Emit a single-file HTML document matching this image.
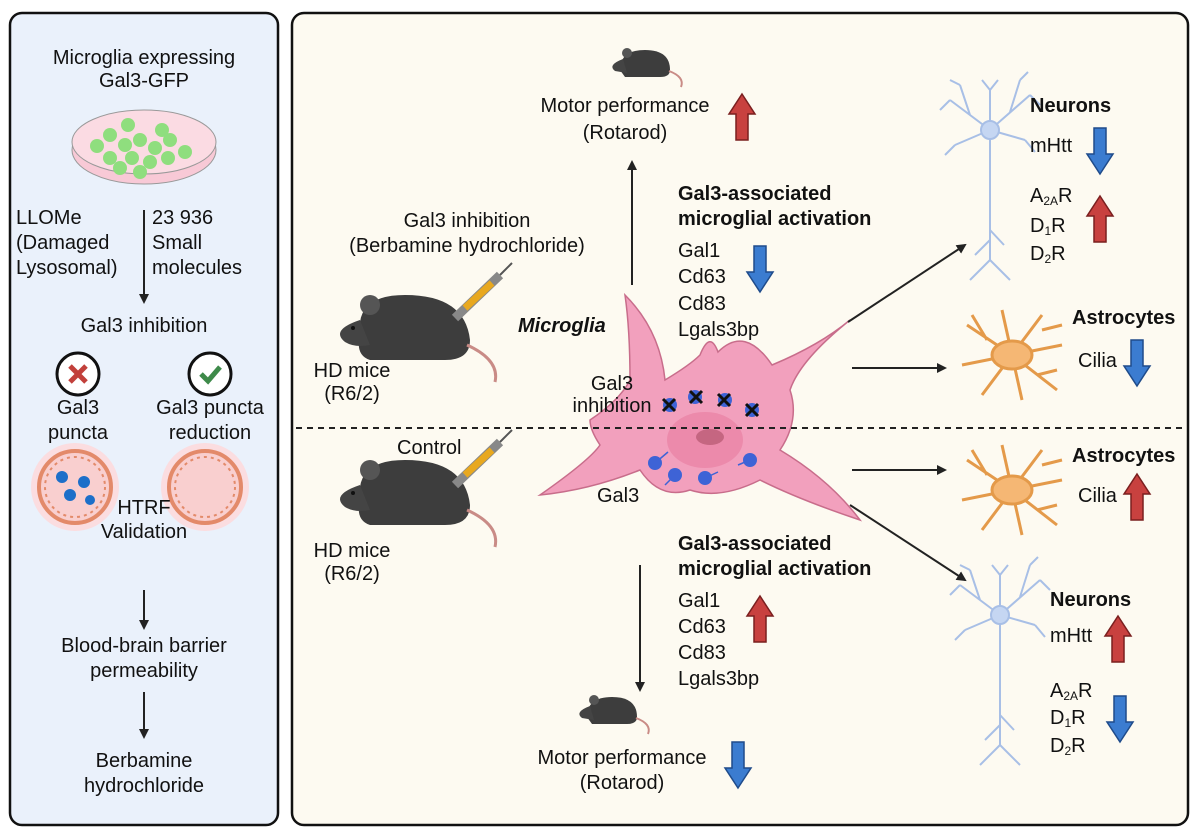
<!DOCTYPE html>
<html><head><meta charset="utf-8"><style>
body{margin:0;background:#fff}
svg{display:block;font-family:"Liberation Sans",sans-serif}
text{fill:#111;font-size:20px}
.b{font-weight:bold}
.m{text-anchor:middle}
</style></head><body>
<svg width="1200" height="840" viewBox="0 0 1200 840">
<defs>
<marker id="ah" markerWidth="10" markerHeight="10" refX="8" refY="5" orient="auto" markerUnits="userSpaceOnUse"><path d="M0,0 L10,5 L0,10 z" fill="#222"/></marker>
<g id="up"><path d="M0,-24 L13,-4 L6,-4 L6,22 L-6,22 L-6,-4 L-13,-4 z" fill="#c8413f" stroke="#7a1f1f" stroke-width="1.5"/></g>
<g id="dn"><path d="M0,24 L13,4 L6,4 L6,-22 L-6,-22 L-6,4 L-13,4 z" fill="#3b7cd0" stroke="#1f4b8a" stroke-width="1.5"/></g>
<g id="mouse"><path d="M-55,5 Q-60,-35 -10,-35 Q50,-35 55,10 Q55,30 30,30 L-45,30 Q-60,25 -55,5 z" fill="#3d3d3d"/><path d="M-55,-10 Q-85,0 -70,12 Q-60,18 -45,15 z" fill="#444"/><circle cx="-45" cy="-25" r="10" fill="#555"/><circle cx="-62" cy="-2" r="2" fill="#111"/><path d="M52,15 Q85,30 80,52" stroke="#c98b86" stroke-width="3" fill="none"/></g>
<g id="smouse"><path d="M-25,5 Q-25,-15 0,-15 Q25,-15 25,5 Q25,12 15,12 L-20,12 z" fill="#3d3d3d"/><path d="M-22,-6 Q-38,0 -30,6 L-18,8 z" fill="#444"/><circle cx="-18" cy="-12" r="5" fill="#555"/><path d="M24,6 Q40,12 36,22" stroke="#c98b86" stroke-width="2" fill="none"/></g>
<g id="astro" stroke="#e49a4a" stroke-width="3" fill="none"><path d="M0,0 L-45,-30 M0,0 L-50,10 M0,0 L-30,40 M0,0 L10,45 M0,0 L45,35 M0,0 L50,-10 M0,0 L30,-40 M0,0 L-10,-45 M-25,-15 L-40,-40 M25,20 L45,15 M30,-25 L50,-30"/><ellipse cx="0" cy="0" rx="20" ry="14" fill="#f5b774" stroke="#e49a4a"/></g>
<g id="neuron" stroke="#a8bfe6" stroke-width="2" fill="none"><path d="M0,0 L0,130 M0,130 L-20,150 M0,130 L20,150 M0,110 L-15,125 M0,100 L14,115 M0,0 L-40,-30 M0,0 L40,-35 M0,0 L-35,15 M0,0 L35,10 M-20,-15 L-30,-45 M20,-18 L30,-50 M0,0 L0,-40 M-40,-30 L-50,-20 M40,-35 L50,-25 M-35,15 L-45,25 M35,10 L45,22 M0,-40 L-8,-50 M0,-40 L8,-50 M-30,-45 L-40,-50 M30,-50 L38,-58"/><circle cx="0" cy="0" r="9" fill="#c5d6f2"/></g>
</defs>
<rect x="10" y="13" width="268" height="812" rx="12" fill="#eaf1fb" stroke="#111" stroke-width="2.5"/>
<rect x="292" y="13" width="896" height="812" rx="12" fill="#fdfaf1" stroke="#111" stroke-width="2.5"/>

<text class="m" x="144" y="64">Microglia expressing</text>
<text class="m" x="144" y="87">Gal3-GFP</text>
<ellipse cx="144" cy="150" rx="72" ry="34" fill="#f8c9d6" stroke="#999"/>
<ellipse cx="144" cy="142" rx="72" ry="32" fill="#fbdbe3" stroke="#999"/>
<g fill="#8fde7e"><circle cx="110" cy="135" r="7"/><circle cx="125" cy="145" r="7"/><circle cx="140" cy="140" r="7"/><circle cx="155" cy="148" r="7"/><circle cx="170" cy="140" r="7"/><circle cx="132" cy="158" r="7"/><circle cx="150" cy="162" r="7"/><circle cx="168" cy="158" r="7"/><circle cx="185" cy="152" r="7"/><circle cx="97" cy="146" r="7"/><circle cx="120" cy="168" r="7"/><circle cx="162" cy="130" r="7"/><circle cx="140" cy="172" r="7"/><circle cx="128" cy="125" r="7"/><circle cx="110" cy="158" r="7"/></g>
<text x="16" y="224">LLOMe</text><text x="16" y="249">(Damaged</text><text x="16" y="274">Lysosomal)</text>
<text x="152" y="224">23 936</text><text x="152" y="249">Small</text><text x="152" y="274">molecules</text>
<line x1="144" y1="210" x2="144" y2="302" stroke="#222" stroke-width="2" marker-end="url(#ah)"/>
<text class="m" x="144" y="332">Gal3 inhibition</text>
<circle cx="78" cy="374" r="21" fill="#fff" stroke="#111" stroke-width="3"/>
<path d="M70,366 L86,382 M86,366 L70,382" stroke="#c2403b" stroke-width="5"/>
<circle cx="210" cy="374" r="21" fill="#fff" stroke="#111" stroke-width="3"/>
<path d="M201,374 L208,381 L220,367" stroke="#3e8a4a" stroke-width="5" fill="none"/>
<text class="m" x="78" y="414">Gal3</text><text class="m" x="78" y="439">puncta</text>
<text class="m" x="210" y="414">Gal3 puncta</text><text class="m" x="210" y="439">reduction</text>
<circle cx="75" cy="487" r="44" fill="#fbdde0"/><circle cx="75" cy="487" r="36" fill="#f9cfcf" stroke="#e38a6a" stroke-width="4"/><circle cx="75" cy="487" r="30" fill="none" stroke="#e38a6a" stroke-width="2" stroke-dasharray="3,4"/>
<g fill="#1d6fc9"><circle cx="62" cy="477" r="6"/><circle cx="84" cy="482" r="6"/><circle cx="70" cy="495" r="6"/><circle cx="90" cy="500" r="5"/></g>
<circle cx="205" cy="487" r="44" fill="#fbdde0"/><circle cx="205" cy="487" r="36" fill="#f9cfcf" stroke="#e38a6a" stroke-width="4"/><circle cx="205" cy="487" r="30" fill="none" stroke="#e38a6a" stroke-width="2" stroke-dasharray="3,4"/>
<text class="m" x="144" y="514">HTRF</text><text class="m" x="144" y="538">Validation</text>
<line x1="144" y1="590" x2="144" y2="628" stroke="#222" stroke-width="2" marker-end="url(#ah)"/>
<text class="m" x="144" y="652">Blood-brain barrier</text><text class="m" x="144" y="677">permeability</text>
<line x1="144" y1="692" x2="144" y2="737" stroke="#222" stroke-width="2" marker-end="url(#ah)"/>
<text class="m" x="144" y="767">Berbamine</text><text class="m" x="144" y="792">hydrochloride</text>

<use href="#smouse" x="645" y="65"/>
<text class="m" x="625" y="112">Motor performance</text><text class="m" x="625" y="139">(Rotarod)</text>
<use href="#up" x="742" y="118"/>
<line x1="632" y1="285" x2="632" y2="162" stroke="#222" stroke-width="2" marker-end="url(#ah)"/>
<text class="m" x="467" y="227">Gal3 inhibition</text><text class="m" x="467" y="252">(Berbamine hydrochloride)</text>
<use href="#mouse" x="415" y="330"/>
<path d="M455,318 L500,275" stroke="#888" stroke-width="9"/><path d="M465,308 L492,283" stroke="#e8a81f" stroke-width="7"/><path d="M500,275 L512,263" stroke="#555" stroke-width="2"/>
<text class="m" x="352" y="377">HD mice</text><text class="m" x="352" y="400">(R6/2)</text>
<text class="b" x="678" y="200">Gal3-associated</text><text class="b" x="678" y="225">microglial activation</text>
<text x="678" y="257">Gal1</text><text x="678" y="283">Cd63</text><text x="678" y="310">Cd83</text><text x="678" y="336">Lgals3bp</text>
<use href="#dn" x="760" y="268"/>
<text class="b" x="518" y="332" font-style="italic">Microglia</text>
<path d="M625,295 Q660,330 665,380 Q690,365 700,355 Q710,330 718,352 Q745,325 772,365 Q820,345 850,320 Q800,360 790,390 Q800,420 780,450 Q830,480 860,520 Q800,500 760,480 Q720,500 690,490 Q660,500 640,470 Q590,490 540,495 Q590,460 600,445 Q590,430 590,420 Q620,400 630,380 Q630,330 625,295 z" fill="#f2a0bd" stroke="#c86d8b" stroke-width="1.5"/>
<ellipse cx="705" cy="440" rx="38" ry="28" fill="#ec8aab"/><ellipse cx="710" cy="437" rx="14" ry="8" fill="#c56681"/>
<text class="m" x="612" y="390">Gal3</text><text class="m" x="612" y="412">inhibition</text>
<g fill="#3e63d6"><circle cx="670" cy="405" r="7"/><circle cx="695" cy="397" r="7"/><circle cx="725" cy="400" r="7"/><circle cx="752" cy="410" r="7"/><circle cx="655" cy="463" r="7"/><circle cx="675" cy="475" r="7"/><circle cx="705" cy="478" r="7"/><circle cx="750" cy="460" r="7"/></g>
<g stroke="#3e63d6" stroke-width="1.5"><path d="M655,463 L668,452 M675,475 L665,485 M705,478 L718,472 M750,460 L738,465"/></g>
<g stroke="#111" stroke-width="3"><path d="M663,399 L675,411 M675,399 L663,411"/><path d="M690,391 L702,403 M702,391 L690,403"/><path d="M718,394 L730,406 M730,394 L718,406"/><path d="M746,404 L758,416 M758,404 L746,416"/></g>
<line x1="296" y1="428" x2="1185" y2="428" stroke="#222" stroke-width="2" stroke-dasharray="6,5"/>
<text x="397" y="454">Control</text>
<use href="#mouse" x="415" y="495"/>
<path d="M455,485 L500,442" stroke="#888" stroke-width="9"/><path d="M465,475 L492,450" stroke="#e8a81f" stroke-width="7"/><path d="M500,442 L512,430" stroke="#555" stroke-width="2"/>
<text class="m" x="352" y="557">HD mice</text><text class="m" x="352" y="580">(R6/2)</text>
<text x="597" y="502">Gal3</text>
<text class="b" x="678" y="550">Gal3-associated</text><text class="b" x="678" y="575">microglial activation</text>
<text x="678" y="607">Gal1</text><text x="678" y="633">Cd63</text><text x="678" y="659">Cd83</text><text x="678" y="685">Lgals3bp</text>
<use href="#up" x="760" y="620"/>
<line x1="640" y1="565" x2="640" y2="690" stroke="#222" stroke-width="2" marker-end="url(#ah)"/>
<use href="#smouse" x="612" y="712"/>
<text class="m" x="622" y="764">Motor performance</text><text class="m" x="622" y="789">(Rotarod)</text>
<use href="#dn" x="738" y="764"/>

<line x1="848" y1="322" x2="965" y2="245" stroke="#222" stroke-width="2" marker-end="url(#ah)"/>
<line x1="852" y1="368" x2="945" y2="368" stroke="#222" stroke-width="2" marker-end="url(#ah)"/>
<line x1="852" y1="470" x2="945" y2="470" stroke="#222" stroke-width="2" marker-end="url(#ah)"/>
<line x1="850" y1="505" x2="965" y2="580" stroke="#222" stroke-width="2" marker-end="url(#ah)"/>

<use href="#neuron" x="990" y="130"/>
<text class="b" x="1030" y="112">Neurons</text>
<text x="1030" y="152">mHtt</text><use href="#dn" x="1100" y="150"/>
<text x="1030" y="202">A<tspan font-size="12" dy="3">2A</tspan><tspan dy="-3">R</tspan></text>
<text x="1030" y="232">D<tspan font-size="12" dy="3">1</tspan><tspan dy="-3">R</tspan></text>
<text x="1030" y="260">D<tspan font-size="12" dy="3">2</tspan><tspan dy="-3">R</tspan></text>
<use href="#up" x="1100" y="220"/>
<use href="#astro" x="1012" y="355"/>
<text class="b" x="1072" y="324">Astrocytes</text>
<text x="1078" y="367">Cilia</text><use href="#dn" x="1137" y="362"/>
<use href="#astro" x="1012" y="490"/>
<text class="b" x="1072" y="462">Astrocytes</text>
<text x="1078" y="502">Cilia</text><use href="#up" x="1137" y="498"/>
<use href="#neuron" x="1000" y="615"/>
<text class="b" x="1050" y="606">Neurons</text>
<text x="1050" y="642">mHtt</text><use href="#up" x="1118" y="640"/>
<text x="1050" y="697">A<tspan font-size="12" dy="3">2A</tspan><tspan dy="-3">R</tspan></text>
<text x="1050" y="724">D<tspan font-size="12" dy="3">1</tspan><tspan dy="-3">R</tspan></text>
<text x="1050" y="752">D<tspan font-size="12" dy="3">2</tspan><tspan dy="-3">R</tspan></text>
<use href="#dn" x="1120" y="718"/>
</svg>
</body></html>
